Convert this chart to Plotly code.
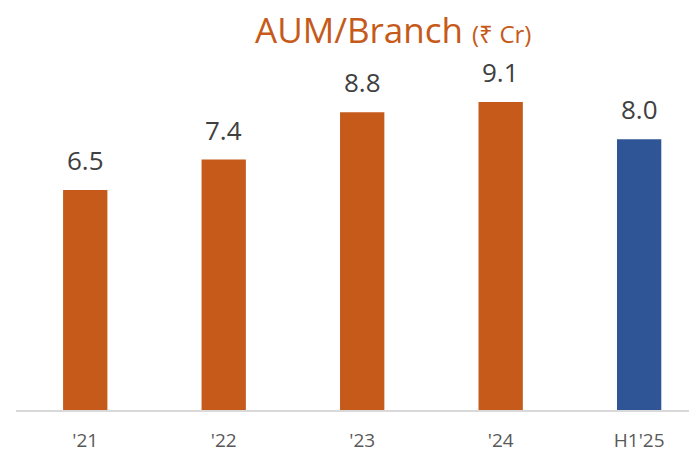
import plotly.graph_objects as go

# AUM per branch, ₹ crore
periods = ["'21", "'22", "'23", "'24", "H1'25"]
aum_per_branch = [6.5, 7.4, 8.8, 9.1, 8.0]
bar_colors = ["#C55A1A", "#C55A1A", "#C55A1A", "#C55A1A", "#2F5597"]

fig = go.Figure()
fig.add_trace(go.Bar(
    x=periods,
    y=aum_per_branch,
    marker=dict(color=bar_colors, line=dict(width=0)),
    width=0.32,
    hoverinfo="skip",
))

# value labels above each bar
for p, v in zip(periods, aum_per_branch):
    fig.add_annotation(
        x=p, y=v, xref="x", yref="y",
        text=f"{v:.1f}", showarrow=False,
        yanchor="bottom", yshift=10,
        font=dict(family="Open Sans", size=26, color="#404040"),
    )

plot_l, plot_t, plot_b = 16, 60, 44
plot_w = 689 - plot_l
plot_h = 454 - plot_t - plot_b

# title, positioned in pixel terms relative to the plot area
fig.add_annotation(
    xref="paper", yref="paper",
    x=(393 - plot_l) / plot_w,
    y=1 + (plot_t - 29) / plot_h,
    text="AUM/Branch <span style='font-size:24px'>(₹ Cr)</span>",
    showarrow=False, xanchor="center", yanchor="middle",
    font=dict(family="Open Sans", size=35, color="#C55A1A"),
)

fig.update_layout(
    width=689, height=454,
    margin=dict(l=plot_l, r=0, t=plot_t, b=plot_b),
    paper_bgcolor="white", plot_bgcolor="white",
    showlegend=False,
    xaxis=dict(
        type="category",
        range=[-0.5, 4.36],
        showgrid=False, zeroline=False,
        showline=True, linecolor="#D9D9D9", linewidth=1.5,
        ticks="", ticklabelstandoff=12,
        tickfont=dict(family="Open Sans", size=19, color="#595959"),
    ),
    yaxis=dict(
        range=[0, 10.34],
        visible=False,
    ),
)

fig.write_html("out.html")
